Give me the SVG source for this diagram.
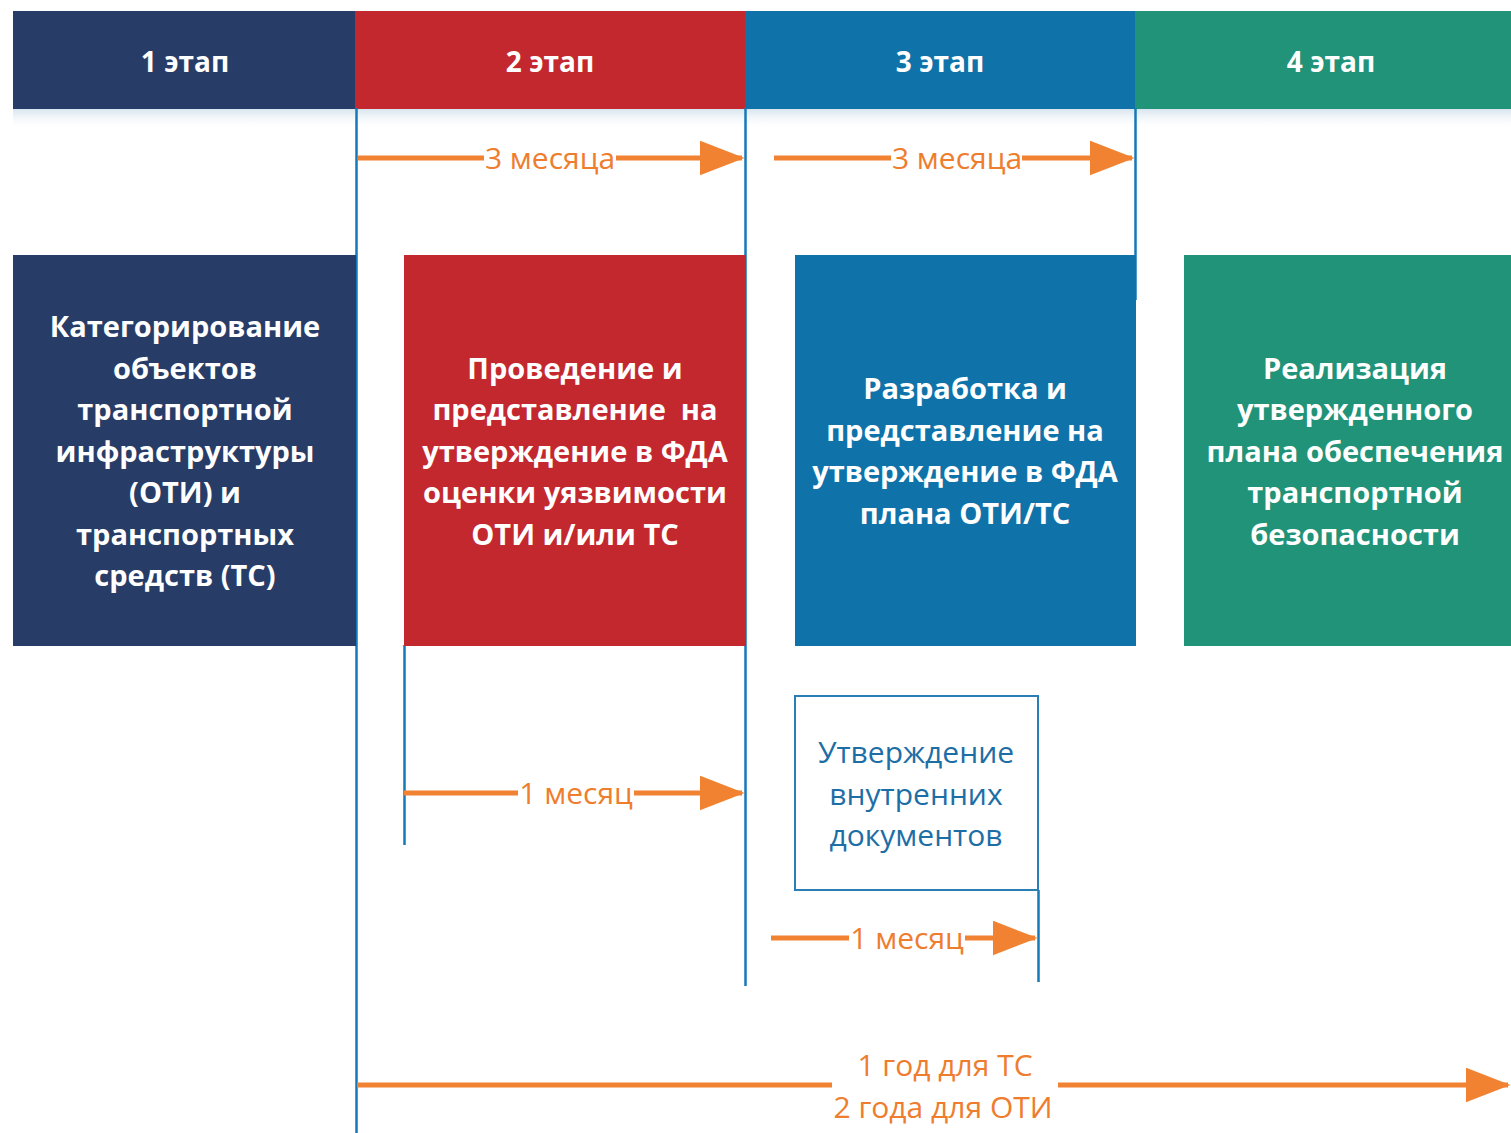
<svg xmlns="http://www.w3.org/2000/svg" width="1511" height="1133" viewBox="0 0 1511 1133">
<style>
.hdr{font-family:"Open Sans","Liberation Sans",sans-serif;font-weight:bold;font-size:28px;fill:#fff;text-anchor:middle}
.box{font-family:"Open Sans","Liberation Sans",sans-serif;font-weight:bold;font-size:29px;fill:#fff;text-anchor:middle}
.lbl{font-family:"Open Sans","Liberation Sans",sans-serif;font-size:30px;fill:#ee7d2e;text-anchor:middle}
.sm{font-family:"Open Sans","Liberation Sans",sans-serif;font-size:30px;fill:#1e6ea6;text-anchor:middle}
.vl{stroke:#1479b8;stroke-width:2.5;fill:none}
.ar{stroke:#f08232;stroke-width:5;fill:none}
</style>
<defs>
<marker id="ah" markerWidth="9" markerHeight="7" refX="8.5" refY="3.5" orient="auto" markerUnits="strokeWidth">
<path d="M0,0 L9,3.5 L0,7 Z" fill="#f08232"/>
</marker>
<linearGradient id="sh" x1="0" y1="0" x2="0" y2="1">
<stop offset="0" stop-color="#c9dbe8" stop-opacity="0.8"/>
<stop offset="1" stop-color="#ffffff" stop-opacity="0"/>
</linearGradient>
</defs>
<rect width="1511" height="1133" fill="#fff"/>
<rect x="13" y="108" width="1498" height="22" fill="url(#sh)"/>

<g id="stage1-header"><rect x="13" y="11" width="343" height="98" fill="#273d67"/><text class="hdr" x="185" y="72">1 этап</text></g>
<g id="stage2-header"><rect x="355" y="11" width="391" height="98" fill="#c4282f"/><text class="hdr" x="550" y="72">2 этап</text></g>
<g id="stage3-header"><rect x="745" y="11" width="391" height="98" fill="#0f73aa"/><text class="hdr" x="940" y="72">3 этап</text></g>
<g id="stage4-header"><rect x="1135" y="11" width="376" height="98" fill="#209378"/><text class="hdr" x="1331" y="72">4 этап</text></g>

<g id="connectors">
<line class="vl" x1="356.5" y1="108" x2="356.5" y2="1133"/>
<line class="vl" x1="745.5" y1="108" x2="745.5" y2="986"/>
<line class="vl" x1="1135.5" y1="108" x2="1135.5" y2="300"/>
<line class="vl" x1="404.5" y1="645" x2="404.5" y2="845"/>
<line class="vl" x1="1038.5" y1="890" x2="1038.5" y2="982"/>

<line class="ar" x1="358" y1="158" x2="484" y2="158"/>
<line class="ar" x1="616" y1="158" x2="742" y2="158" marker-end="url(#ah)"/>
<line class="ar" x1="774" y1="158" x2="891" y2="158"/>
<line class="ar" x1="1022" y1="158" x2="1132" y2="158" marker-end="url(#ah)"/>
<line class="ar" x1="404" y1="793" x2="518" y2="793"/>
<line class="ar" x1="634" y1="793" x2="742" y2="793" marker-end="url(#ah)"/>
<line class="ar" x1="771" y1="938" x2="849" y2="938"/>
<line class="ar" x1="965" y1="938" x2="1035" y2="938" marker-end="url(#ah)"/>
<line class="ar" x1="357" y1="1085" x2="832" y2="1085"/>
<line class="ar" x1="1058" y1="1085" x2="1508" y2="1085" marker-end="url(#ah)"/>

<text class="lbl" x="550" y="169">3 месяца</text>
<text class="lbl" x="957" y="169">3 месяца</text>
<text class="lbl" x="576" y="804">1 месяц</text>
<text class="lbl" x="907" y="949">1 месяц</text>
<text class="lbl" x="945" y="1076">1 год для ТС</text>
<text class="lbl" x="943" y="1118">2 года для ОТИ</text>
</g>

<g id="box1"><rect x="13" y="255" width="343" height="391" fill="#273d67"/>
<text class="box" x="185"><tspan x="185" y="337">Категорирование</tspan><tspan x="185" y="379">объектов</tspan><tspan x="185" y="420">транспортной</tspan><tspan x="185" y="462">инфраструктуры</tspan><tspan x="185" y="503">(ОТИ) и</tspan><tspan x="185" y="545">транспортных</tspan><tspan x="185" y="586">средств (ТС)</tspan></text></g>

<g id="box2"><rect x="404" y="255" width="342" height="391" fill="#c4282f"/>
<text class="box" x="575" style="white-space:pre"><tspan x="575" y="379">Проведение и</tspan><tspan x="575" y="420">представление  на</tspan><tspan x="575" y="462">утверждение в ФДА</tspan><tspan x="575" y="503">оценки уязвимости</tspan><tspan x="575" y="545">ОТИ и/или ТС</tspan></text></g>

<g id="box3"><rect x="795" y="255" width="341" height="391" fill="#0f73aa"/>
<text class="box" x="965"><tspan x="965" y="399">Разработка и</tspan><tspan x="965" y="441">представление на</tspan><tspan x="965" y="482">утверждение в ФДА</tspan><tspan x="965" y="524">плана ОТИ/ТС</tspan></text></g>

<g id="box4"><rect x="1184" y="255" width="327" height="391" fill="#209378"/>
<text class="box" x="1355"><tspan x="1355" y="379">Реализация</tspan><tspan x="1355" y="420">утвержденного</tspan><tspan x="1355" y="462">плана обеспечения</tspan><tspan x="1355" y="503">транспортной</tspan><tspan x="1355" y="545">безопасности</tspan></text></g>

<g id="box5"><rect x="795" y="696" width="243" height="194" fill="#fff" stroke="#2b7db5" stroke-width="2"/>
<text class="sm" x="916"><tspan x="916" y="763">Утверждение</tspan><tspan x="916" y="805">внутренних</tspan><tspan x="916" y="846">документов</tspan></text></g>
</svg>
